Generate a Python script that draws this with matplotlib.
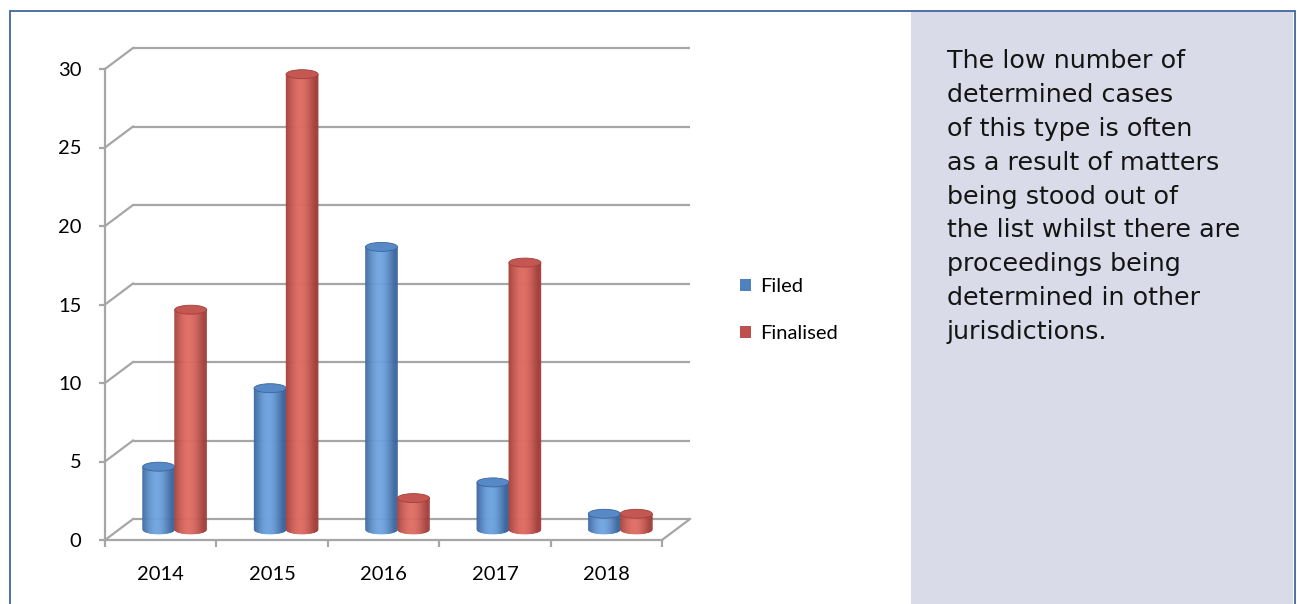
import numpy as np
import matplotlib.pyplot as plt
from matplotlib.patches import Polygon, Ellipse, Rectangle, Patch
from matplotlib.colors import to_rgb

years = ['2014', '2015', '2016', '2017', '2018']
filed = [4, 9, 18, 3, 1]
finalised = [14, 29, 2, 17, 1]
y_ticks = [0, 5, 10, 15, 20, 25, 30]
note = ("The low number of\ndetermined cases\nof this type is often\n"
        "as a result of matters\nbeing stood out of\nthe list whilst there are\n"
        "proceedings being\ndetermined in other\njurisdictions.")

W, H = 1297, 604
fig = plt.figure(figsize=(W / 100, H / 100), dpi=100)
fig.patch.set_facecolor('white')


def frac(x0, y0, x1, y1):
    # pixel box (top-left origin) -> figure fraction rect
    return [x0 / W, 1 - y1 / H, (x1 - x0) / W, (y1 - y0) / H]


# text panel on the right and outer frame
fig.add_artist(Rectangle((911 / W, 0), (1293 - 911) / W, 1 - 11 / H,
                         transform=fig.transFigure, facecolor='#d9dbe8',
                         edgecolor='none', zorder=0))
fig.add_artist(Rectangle((9.5 / W, -0.05), (1295 - 9.5) / W, 1.05 - 10.5 / H,
                         transform=fig.transFigure, facecolor='none',
                         edgecolor='#40659c', lw=1.3, zorder=5))
fig.text(947 / W, 1 - 49 / H, note, fontsize=18.3, family='DejaVu Sans',
         va='top', ha='left', linespacing=1.52, color='#141414')

# front plane of the 3-D chart
ax = fig.add_axes(frac(105, 69, 662, 540))
ax.set_xlim(-0.5, len(years) - 0.5)
ax.set_ylim(0, 30)
ax.patch.set_alpha(0)

grid_c = '#a6a6a6'
for s in ['top', 'right']:
    ax.spines[s].set_visible(False)
for s in ['left', 'bottom']:
    ax.spines[s].set_color(grid_c)
    ax.spines[s].set_linewidth(1.6)

ax.set_yticks(y_ticks)
ax.set_yticklabels([str(v) for v in y_ticks])
ax.tick_params(axis='y', length=4, width=1.6, color=grid_c, pad=13,
               labelsize=14.5, labelfontfamily='Lato')
ax.set_xticks(range(len(years)))
ax.set_xticklabels(years)
ax.set_xticks(np.arange(-0.5, len(years)), minor=True)
ax.tick_params(axis='x', which='major', length=0, pad=19,
               labelsize=14.5, labelfontfamily='Lato')
ax.tick_params(axis='x', which='minor', length=5, width=1.6, color=grid_c)

# depth of the box, in data units
x_scale = ax.bbox.width / len(years)
y_scale = ax.bbox.height / 30
ddx = 28 / x_scale
ddy = 21 / y_scale

x_lo, x_hi = -0.5, len(years) - 0.5
for g in y_ticks:
    ax.plot([x_lo + ddx, x_hi + ddx], [g + ddy, g + ddy], color=grid_c,
            lw=1.6, zorder=1, clip_on=False, solid_capstyle='butt')
    ax.plot([x_lo, x_lo + ddx], [g, g + ddy], color=grid_c, lw=1.6,
            zorder=1, clip_on=False)
ax.plot([x_hi, x_hi + ddx], [0, ddy], color=grid_c, lw=1.6, zorder=1,
        clip_on=False)

bar_w = 32 / x_scale
eh = 4.5 / y_scale


def cylinder(xc, value, light, dark, top, z):
    light, dark = np.array(to_rgb(light)), np.array(to_rgb(dark))
    r = bar_w / 2
    base = ddy / 2
    edges = np.linspace(xc - r, xc + r, 33)
    for a, b in zip(edges[:-1], edges[1:]):
        t = ((a + b) / 2 - (xc - r)) / (2 * r)
        f = np.clip(np.cos((t - 0.45) * np.pi * 1.05), 0, 1) ** 1.1
        c = dark * (1 - f) + light * f
        xs = np.linspace(a, b, 4)
        low = base - eh * np.sqrt(np.clip(1 - ((xs - xc) / r) ** 2, 0, 1))
        verts = list(zip(xs, low)) + [(b, base + value), (a, base + value)]
        ax.add_patch(Polygon(verts, closed=True, facecolor=c, edgecolor=c,
                             lw=0.4, zorder=z, clip_on=False))
    ax.add_patch(Ellipse((xc, base + value), 2 * r, 2 * eh, facecolor=top,
                         edgecolor=dark, lw=0.6, zorder=z + 0.5, clip_on=False))


blue = ('#70a4df', '#3a659c', '#5889c7')
red = ('#de6d64', '#a23f3b', '#c45751')
for i in range(len(years)):
    cylinder(i - bar_w / 2 + ddx / 2, filed[i], *blue, z=3)
    cylinder(i + bar_w / 2 + ddx / 2, finalised[i], *red, z=4)

handles = [Patch(facecolor='#4f81bd'), Patch(facecolor='#c0504d')]
fig.legend(handles, ['Filed', 'Finalised'], loc='center left',
           bbox_to_anchor=(722 / W, 1 - 310 / H), frameon=False,
           prop={'family': 'Lato', 'size': 14.5}, handlelength=0.55,
           handleheight=0.55, handletextpad=0.45, labelspacing=1.5)

fig.savefig('out.png', dpi=100)
